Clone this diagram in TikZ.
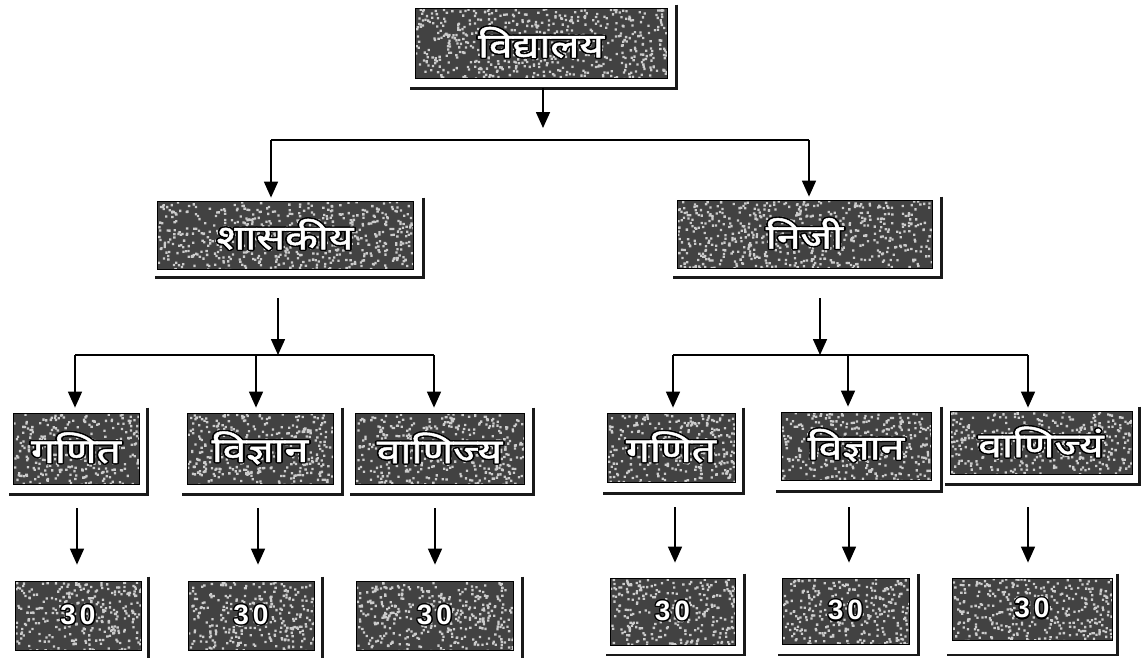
\documentclass[tikz,border=0pt]{standalone}
\usepackage{fontspec}
\usepackage{contour}
\newfontfamily\dev[Script=Devanagari,FakeBold=1.4]{Noto Sans}
\newfontfamily\numfont{Liberation Sans}
\usetikzlibrary{arrows.meta,calc}
\contourlength{1.3pt}
\contournumber{12}

\colorlet{cardbg}{black!74}
\colorlet{grainc}{black!20}

% a grainy card: name, x1, y1, x2, y2, label
\newcommand\mkcard[6]{%
  \pgfmathsetmacro\hw{(#4-#2)/2}\pgfmathsetmacro\hh{(#5-#3)/2}%
  \pgfmathsetmacro\cx{(#2+#4)/2}\pgfmathsetmacro\cy{(#3+#5)/2}%
  \pgfmathtruncatemacro\grains{(#4-#2)/90*(#5-#3)}%
  \begin{scope}
    \clip (#2,#3) rectangle (#4,#5);
    \fill[cardbg] (#2,#3) rectangle (#4,#5);
    \foreach \batch in {1,2,3}{
      \fill[grainc] \foreach \k in {1,...,\grains}{
        ({\cx+rand*\hw},{\cy+rand*\hh}) rectangle ++(2.3,2.3)};
    }
  \end{scope}
  \node[card, minimum width={#4-#2}, minimum height={#5-#3}] (#1)
    at (\cx,\cy) {#6};}
\newcommand\devlabel[1]{{\dev\fontsize{34}{34}\selectfont
  \scalebox{1.25}[1]{\contour{black}{#1}}}}
\newcommand\numlabel[1]{{\numfont\bfseries\fontsize{28}{28}\selectfont\contour{black}{#1}}}

\begin{document}
\begin{tikzpicture}[x=1pt,y=-1pt,
  card/.style={draw=black, line width=0.8pt, inner sep=0pt,
    text=white, anchor=center},
  rim/.style={line width=2.2pt, draw=black!90},
  link/.style={line width=1.6pt, -{Triangle[width=14pt,length=16pt]}},
  bus/.style={line width=1.6pt}]
\pgfmathsetseed{4711}
\useasboundingbox (0,0) rectangle (1148,657);

% ---- cards ----
\mkcard{T}{415}{8}{667}{78}{\devlabel{विद्यालय}}
\mkcard{A}{157}{201}{413}{269}{\devlabel{शासकीय}}
\mkcard{B}{677}{200}{932}{268}{\devlabel{निजी}}

\mkcard{G1}{13}{413}{139}{484}{\devlabel{गणित}}
\mkcard{V1}{187}{413}{333}{484}{\devlabel{विज्ञान}}
\mkcard{W1}{355}{413}{524}{484}{\devlabel{वाणिज्य}}
\mkcard{G2}{607}{413}{735}{482}{\devlabel{गणित}}
\mkcard{V2}{781}{412}{931}{480}{\devlabel{विज्ञान}}
\mkcard{W2}{950}{411}{1132}{474}{\devlabel{वाणिज्यं}}

\mkcard{N1}{15}{581}{141}{650}{\numlabel{3\hspace{4pt}0}}
\mkcard{N2}{188}{581}{314}{650}{\numlabel{3\hspace{4pt}0}}
\mkcard{N3}{356}{581}{513}{650}{\numlabel{3\hspace{4pt}0}}
\mkcard{N4}{610}{578}{735}{645}{\numlabel{3\hspace{4pt}0}}
\mkcard{N5}{782}{578}{909}{644}{\numlabel{3\hspace{4pt}0}}
\mkcard{N6}{952}{578}{1112}{640}{\numlabel{3\hspace{4pt}0}}

% ---- offset rims ----
\draw[rim] ($(T.north east)+(9,-3)$) |- ($(T.south west)+(-5,10)$);
\draw[rim] ($(A.north east)+(10,-3)$) |- ($(A.south west)+(-2,8)$);
\draw[rim] ($(B.north east)+(9,-3)$) |- ($(B.south west)+(-4,9)$);
\draw[rim] ($(G1.north east)+(8,-5)$) |- ($(G1.south west)+(-4,10)$);
\draw[rim] ($(V1.north east)+(9,-5)$) |- ($(V1.south west)+(-5,10)$);
\draw[rim] ($(W1.north east)+(9,-5)$) |- ($(W1.south west)+(-5,10)$);
\draw[rim] ($(G2.north east)+(8,-5)$) |- ($(G2.south west)+(-4,11)$);
\draw[rim] ($(V2.north east)+(10,-5)$) |- ($(V2.south west)+(-5,11)$);
\draw[rim] ($(W2.north east)+(7,-4)$) |- ($(W2.south west)+(-5,10)$);
\draw[rim] ($(N1.north east)+(7,-4)$) -- ++(0,82);
\draw[rim] ($(N2.north east)+(8,-4)$) -- ++(0,82);
\draw[rim] ($(N3.north east)+(9,-4)$) -- ++(0,82);
\draw[rim] ($(N4.north east)+(9,-4)$) |- (606,655);
\draw[rim] ($(N5.north east)+(9,-4)$) |- (778,655);
\draw[rim] ($(N6.north east)+(5,-4)$) |- (947,655);

% ---- top level connectors ----
\coordinate (t0) at (543,88);
\coordinate (t1) at (543,128);
\draw[link] (t0) -- (t1);
\coordinate (busL) at (271,140);
\coordinate (busR) at (809,140);
\draw[bus] (busL) -- (busR);
\draw[link, shorten >=3pt] (busL) -- (busL |- A.north);
\draw[link, shorten >=3pt] (busR) -- (busR |- B.north);

% ---- left branch ----
\coordinate (a0) at (278,298);
\coordinate (a1) at (278,355);
\draw[link] (a0) -- (a1);
\coordinate (aL) at (75,355);
\coordinate (aM) at (256,355);
\coordinate (aR) at (434,355);
\draw[bus] (aL) -- (aR);
\draw[link, shorten >=5pt] (aL) -- (aL |- G1.north);
\draw[link, shorten >=5pt] (aM) -- (aM |- V1.north);
\draw[link, shorten >=5pt] (aR) -- (aR |- W1.north);

% ---- right branch ----
\coordinate (b0) at (820,298);
\coordinate (b1) at (820,355);
\draw[link] (b0) -- (b1);
\coordinate (bL) at (673,355);
\coordinate (bM) at (848,355);
\coordinate (bR) at (1028,355);
\draw[bus] (bL) -- (bR);
\draw[link, shorten >=5pt] (bL) -- (bL |- G2.north);
\draw[link, shorten >=5pt] (bM) -- (bM |- V2.north);
\draw[link, shorten >=3pt] (bR) -- (bR |- W2.north);

% ---- counts ----
\coordinate (c1) at (77,508);
\coordinate (c2) at (258,508);
\coordinate (c3) at (435,508);
\coordinate (c4) at (675,507);
\coordinate (c5) at (849,507);
\coordinate (c6) at (1028,507);
\draw[link, shorten >=16pt] (c1) -- (c1 |- N1.north);
\draw[link, shorten >=16pt] (c2) -- (c2 |- N2.north);
\draw[link, shorten >=16pt] (c3) -- (c3 |- N3.north);
\draw[link, shorten >=15pt] (c4) -- (c4 |- N4.north);
\draw[link, shorten >=15pt] (c5) -- (c5 |- N5.north);
\draw[link, shorten >=15pt] (c6) -- (c6 |- N6.north);
\end{tikzpicture}
\end{document}
